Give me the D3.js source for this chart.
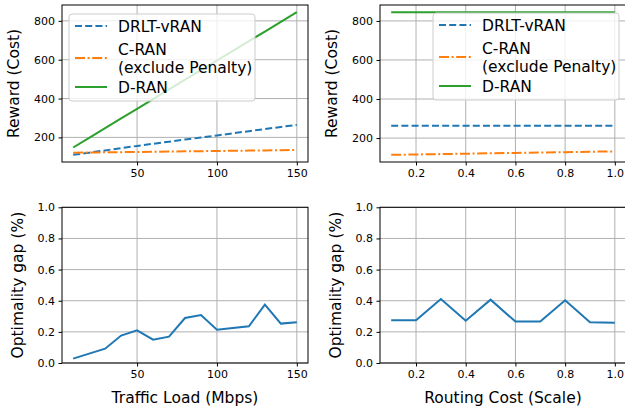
<!DOCTYPE html>
<html>
<head>
<meta charset="utf-8">
<script src="https://cdn.jsdelivr.net/npm/d3@7"></script>
<style>
  body { margin: 0; background: #fff; }
  svg { display: block; font-family: "DejaVu Sans", sans-serif; }
</style>
</head>
<body>
<svg id="chart" width="625" height="412"></svg>
<script>
// data
const traffic = [10, 20, 30, 40, 50, 60, 70, 80, 90, 100, 110, 120, 130, 140, 150];
const drltTraffic = [110, 121, 133, 145, 156, 167, 178, 189, 199, 210, 221, 232, 243, 254, 264];
const cranTraffic = [121, 122, 123, 124, 125, 126, 127, 128, 129, 130, 131, 132, 133, 134, 135];
const dranTraffic = [148, 198, 248, 298, 347, 397, 447, 497, 546, 596, 646, 696, 745, 795, 845];
const gapTraffic = [0.028, 0.06, 0.092, 0.176, 0.21, 0.15, 0.169, 0.289, 0.308, 0.214, 0.225, 0.236, 0.375, 0.253, 0.261];

const routing = [0.1, 0.2, 0.3, 0.4, 0.5, 0.6, 0.7, 0.8, 0.9, 1.0];
const drltRouting = [263, 263, 263, 263, 263, 263, 263, 263, 263, 263];
const cranRouting = [114, 116, 118, 120, 122, 124, 126, 128, 130, 132];
const dranRouting = [845, 845, 845, 845, 845, 845, 845, 845, 845, 845];
const gapRouting = [0.274, 0.274, 0.411, 0.272, 0.407, 0.266, 0.266, 0.403, 0.261, 0.259];

const trafficTicks = [50, 100, 150];
const routingTicks = [0.2, 0.4, 0.6, 0.8, 1.0];
const rewardTicks = [200, 400, 600, 800];
const gapTicks = [0, 0.2, 0.4, 0.6, 0.8, 1.0];

const colors = { drlt: "#1f77b4", cran: "#ff7f0e", dran: "#2ca02c" };
const dashes = { drlt: "7,3.2", cran: "10,2.6,2,2.6", dran: null };
const legendNames = [["DRLT-vRAN"], ["C-RAN", "(exclude Penalty)"], ["D-RAN"]];

const svg = d3.select("#chart");

function pad(ext) {
    const m = (ext[1] - ext[0]) * 0.05;
    return [ext[0] - m, ext[1] + m];
}

function panel(opt) {
    const g = svg.append("g");
    const x = d3.scaleLinear().domain(pad(d3.extent(opt.xs))).range([opt.left, opt.right]);
    const y = d3.scaleLinear().domain(opt.ydom).range([opt.bottom, opt.top]);

    // clip
    const id = "clip" + Math.round(opt.left) + Math.round(opt.top);
    svg.append("clipPath").attr("id", id).append("rect")
        .attr("x", opt.left).attr("y", opt.top)
        .attr("width", opt.right - opt.left).attr("height", opt.bottom - opt.top);

    // grid
    g.append("g").selectAll("line").data(opt.xticks).enter().append("line")
        .attr("x1", d => x(d)).attr("x2", d => x(d))
        .attr("y1", opt.top).attr("y2", opt.bottom)
        .attr("stroke", "#b0b0b0").attr("stroke-width", 1);
    g.append("g").selectAll("line").data(opt.yticks).enter().append("line")
        .attr("x1", opt.left).attr("x2", opt.right)
        .attr("y1", d => y(d)).attr("y2", d => y(d))
        .attr("stroke", "#b0b0b0").attr("stroke-width", 1);

    // lines
    const line = d3.line().x(d => x(d[0])).y(d => y(d[1]));
    const lines = g.append("g").attr("clip-path", `url(#${id})`);
    opt.series.forEach(s => {
        lines.append("path")
            .datum(opt.xs.map((v, i) => [v, s.values[i]]))
            .attr("d", line)
            .attr("fill", "none")
            .attr("stroke", s.color)
            .attr("stroke-width", 2)
            .attr("stroke-dasharray", s.dash);
    });

    // axes
    const xAxis = d3.axisBottom(x).tickValues(opt.xticks).tickSize(3.5).tickPadding(3.5)
        .tickFormat(opt.xfmt);
    const yAxis = d3.axisLeft(y).tickValues(opt.yticks).tickSize(3.5).tickPadding(3.5)
        .tickFormat(opt.yfmt);
    const gx = g.append("g").attr("transform", `translate(0,${opt.bottom})`).call(xAxis);
    const gy = g.append("g").attr("transform", `translate(${opt.left},0)`).call(yAxis);
    [gx, gy].forEach(a => {
        a.select(".domain").remove();
        a.selectAll("text").attr("font-size", 11).attr("fill", "#000")
            .attr("font-family", "DejaVu Sans, sans-serif");
        a.selectAll("line").attr("stroke", "#000").attr("stroke-width", 1);
    });

    // spines
    g.append("rect")
        .attr("x", opt.left).attr("y", opt.top)
        .attr("width", opt.right - opt.left).attr("height", opt.bottom - opt.top)
        .attr("fill", "none").attr("stroke", "#000").attr("stroke-width", 1);

    // labels
    g.append("text")
        .attr("transform", `translate(${opt.ylabelX},${(opt.top + opt.bottom) / 2}) rotate(-90)`)
        .attr("text-anchor", "middle")
        .attr("font-size", 15.5)
        .text(opt.ylabel);
    if (opt.xlabel) {
        g.append("text")
            .attr("x", (opt.left + opt.right) / 2)
            .attr("y", 403)
            .attr("text-anchor", "middle")
            .attr("font-size", 15.5)
            .text(opt.xlabel);
    }

    // legend
    if (opt.legendX !== undefined) {
        const lg = g.append("g").attr("transform", `translate(${opt.legendX},${opt.legendY})`);
        lg.append("rect")
            .attr("width", 186).attr("height", 87)
            .attr("rx", 3)
            .attr("fill", "#fff").attr("fill-opacity", 0.8)
            .attr("stroke", "#cccccc").attr("stroke-width", 1);
        const rowY = [12, 44, 73];
        opt.series.forEach((s, i) => {
            lg.append("line")
                .attr("x1", 6).attr("x2", 38)
                .attr("y1", rowY[i]).attr("y2", rowY[i])
                .attr("stroke", s.color).attr("stroke-width", 2)
                .attr("stroke-dasharray", s.dash);
            const names = legendNames[i];
            names.forEach((n, j) => {
                lg.append("text")
                    .attr("x", 49)
                    .attr("y", rowY[i] + 5.5 + (j - (names.length - 1) / 2) * 18)
                    .attr("font-size", 15.5)
                    .text(n);
            });
        });
    }
}

const fmt1 = d3.format(".1f");

panel({
    xs: traffic, left: 62, right: 308, top: 5, bottom: 162,
    ydom: pad([d3.min(drltTraffic.concat(cranTraffic)), d3.max(dranTraffic)]),
    xticks: trafficTicks, yticks: rewardTicks, xfmt: d3.format("d"), yfmt: d3.format("d"),
    series: [
        { values: drltTraffic, color: colors.drlt, dash: dashes.drlt },
        { values: cranTraffic, color: colors.cran, dash: dashes.cran },
        { values: dranTraffic, color: colors.dran, dash: dashes.dran }
    ],
    ylabel: "Reward (Cost)", ylabelX: 19,
    legendX: 69, legendY: 14
});

panel({
    xs: routing, left: 380, right: 626, top: 5, bottom: 162,
    ydom: pad([d3.min(cranRouting), d3.max(dranRouting)]),
    xticks: routingTicks, yticks: rewardTicks, xfmt: fmt1, yfmt: d3.format("d"),
    series: [
        { values: drltRouting, color: colors.drlt, dash: dashes.drlt },
        { values: cranRouting, color: colors.cran, dash: dashes.cran },
        { values: dranRouting, color: colors.dran, dash: dashes.dran }
    ],
    ylabel: "Reward (Cost)", ylabelX: 337,
    legendX: 433, legendY: 13
});

panel({
    xs: traffic, left: 62, right: 308, top: 207.3, bottom: 363,
    ydom: [0, 1],
    xticks: trafficTicks, yticks: gapTicks, xfmt: d3.format("d"), yfmt: fmt1,
    series: [{ values: gapTraffic, color: colors.drlt, dash: null }],
    ylabel: "Optimality gap (%)", ylabelX: 23,
    xlabel: "Traffic Load (Mbps)"
});

panel({
    xs: routing, left: 380, right: 626, top: 207.3, bottom: 363,
    ydom: [0, 1],
    xticks: routingTicks, yticks: gapTicks, xfmt: fmt1, yfmt: fmt1,
    series: [{ values: gapRouting, color: colors.drlt, dash: null }],
    ylabel: "Optimality gap (%)", ylabelX: 341,
    xlabel: "Routing Cost (Scale)"
});
</script>
</body>
</html>
